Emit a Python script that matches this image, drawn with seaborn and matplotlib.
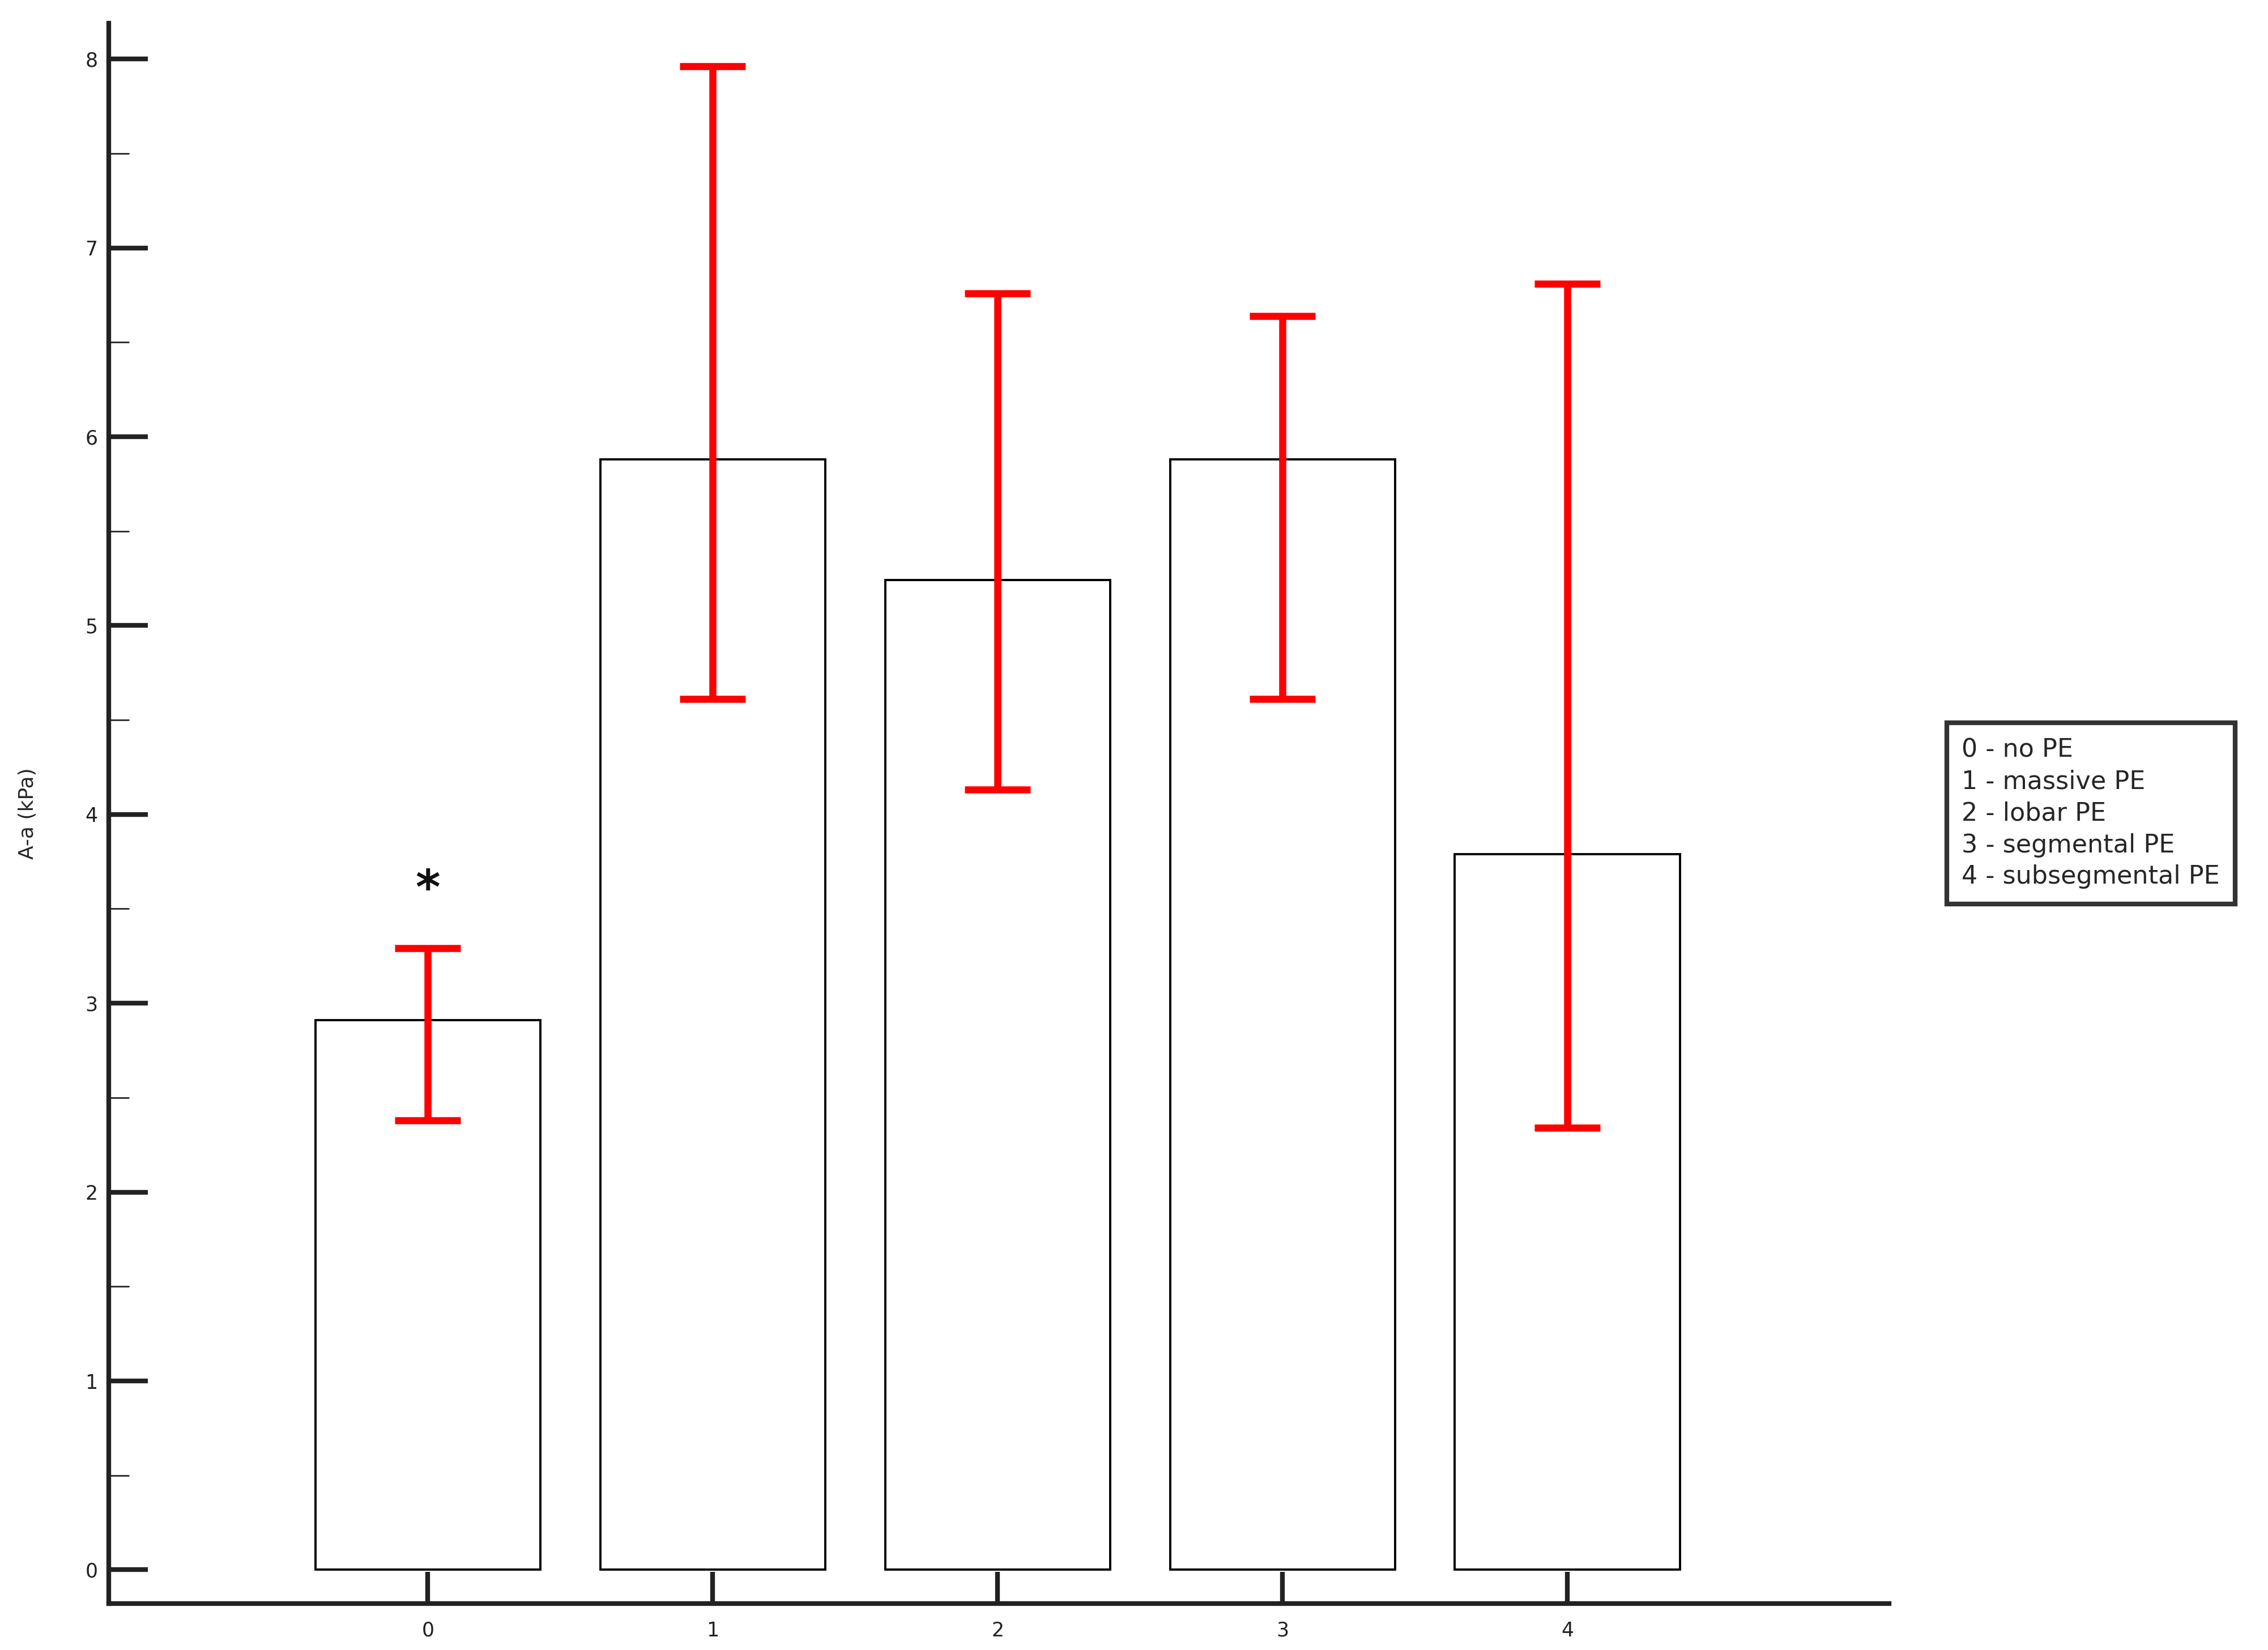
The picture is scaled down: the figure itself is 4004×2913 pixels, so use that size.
import matplotlib
matplotlib.use("Agg")
import matplotlib.pyplot as plt
import seaborn as sns
import pandas as pd
from matplotlib.ticker import MultipleLocator

groups = ["0", "1", "2", "3", "4"]
means = [2.91, 5.88, 5.24, 5.88, 3.79]
upper = [3.29, 7.96, 6.76, 6.64, 6.81]
lower = [2.38, 4.61, 4.13, 4.61, 2.34]
legend_lines = ["0 - no PE", "1 - massive PE", "2 - lobar PE",
                "3 - segmental PE", "4 - subsegmental PE"]

sns.set_style("white")
plt.rcParams["font.family"] = ["DejaVu Sans"]

df = pd.DataFrame({"group": groups, "mean": means})
fig = plt.figure(figsize=(40.04, 29.13), dpi=100)
ax = fig.add_axes([0.048, 0.028, 0.785, 0.958])

sns.barplot(data=df, x="group", y="mean", color="white", edgecolor="black",
            linewidth=2.8, width=0.79, ax=ax, errorbar=None)
for p in ax.patches:
    p.set_facecolor("white")

pos = range(len(groups))
yerr = [[m - l for m, l in zip(means, lower)], [u - m for m, u in zip(means, upper)]]
ax.errorbar(list(pos), means, yerr=yerr, fmt="none", ecolor="red",
            elinewidth=9, capsize=42, capthick=9, zorder=5)
ax.text(0, 3.6, "*", ha="center", va="center", fontsize=60,
        fontweight="bold", color="#111111")

ax.set_xlim(-1.12, 5.13)
ax.set_ylim(-0.18, 8.19)
ax.yaxis.set_major_locator(MultipleLocator(1))
ax.yaxis.set_minor_locator(MultipleLocator(0.5))
for s in ["top", "right"]:
    ax.spines[s].set_visible(False)
for s in ["left", "bottom"]:
    ax.spines[s].set_linewidth(6)
    ax.spines[s].set_color("#222222")
ax.tick_params(axis="y", which="major", direction="in", length=50, width=6,
               labelsize=25, pad=14, left=True, colors="#222222")
ax.tick_params(axis="y", which="minor", direction="in", length=26, width=2,
               left=True)
ax.tick_params(axis="x", direction="in", length=40, width=6, labelsize=25,
               pad=22, bottom=True, colors="#222222")
ax.set_xlabel("")
ax.set_ylabel("A-a (kPa)", fontsize=26)
ax.yaxis.set_label_coords(-0.04, 0.5)

fig.text(0.865, 0.507, "\n".join(legend_lines), fontsize=32, va="center",
         ha="left", linespacing=1.38,
         bbox=dict(boxstyle="square,pad=0.6", facecolor="white",
                   edgecolor="#333333", linewidth=6))

fig.savefig("out.png", dpi=100)
